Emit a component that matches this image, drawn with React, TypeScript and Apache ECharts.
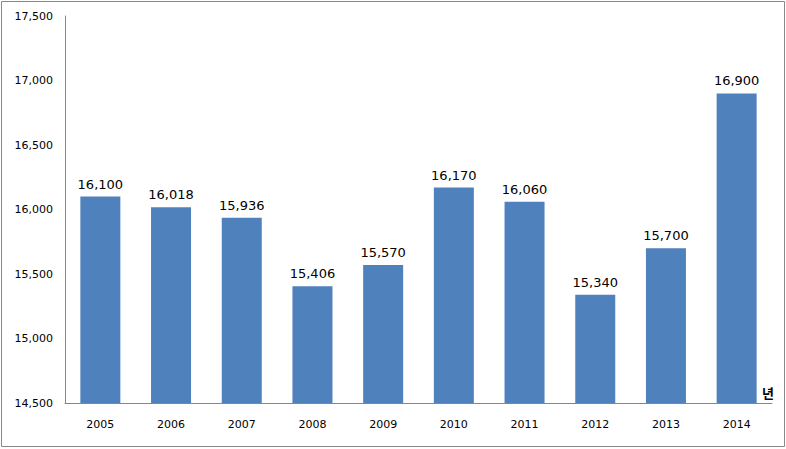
import React, { useEffect, useRef } from "react";
import * as echarts from "echarts";

const years = ["2005", "2006", "2007", "2008", "2009", "2010", "2011", "2012", "2013", "2014"];
const values = [16100, 16018, 15936, 15406, 15570, 16170, 16060, 15340, 15700, 16900];

export default function App() {
  const ref = useRef<HTMLDivElement>(null);
  useEffect(() => {
    document.body.style.margin = "0";
    const chart = echarts.init(ref.current!, null, { renderer: "svg" });
    const fmt = (v: number) => v.toLocaleString("en-US");
    chart.setOption({
      animation: false,
      backgroundColor: "#ffffff",
      grid: { left: 65, right: 14, top: 16, bottom: 46 },
      xAxis: {
        type: "category",
        data: years,
        axisLine: { lineStyle: { color: "#868686", width: 1 } },
        axisTick: { show: false },
        axisLabel: { color: "#000", fontSize: 11, margin: 16, fontFamily: "DejaVu Sans" },
      },
      yAxis: {
        type: "value",
        min: 14500,
        max: 17500,
        interval: 500,
        splitLine: { show: false },
        axisLine: { show: true, lineStyle: { color: "#868686", width: 1 } },
        axisTick: { show: false },
        axisLabel: {
          color: "#000",
          fontSize: 11,
          margin: 12,
          fontFamily: "DejaVu Sans",
          formatter: (v: number) => fmt(v),
        },
      },
      series: [
        {
          type: "bar",
          data: values,
          barWidth: 40,
          itemStyle: { color: "#4F81BD" },
          label: {
            show: true,
            position: "top",
            distance: 6,
            color: "#000",
            fontSize: 13,
            fontFamily: "DejaVu Sans",
            formatter: (p: any) => fmt(p.value),
          },
        },
      ],
      graphic: [
        {
          type: "rect",
          shape: { x: 1.5, y: 1.5, width: 783, height: 445 },
          style: { fill: "none", stroke: "#888888", lineWidth: 1 },
          silent: true,
        },
        {
          type: "text",
          x: 768,
          y: 392,
          style: {
            text: "년",
            fontSize: 13,
            fontWeight: "bold",
            fill: "#000",
            fontFamily: "Noto Sans CJK KR",
            align: "center",
            verticalAlign: "middle",
          },
        },
      ],
    });
    return () => chart.dispose();
  }, []);
  return <div ref={ref} style={{ width: 786, height: 449 }} />;
}
